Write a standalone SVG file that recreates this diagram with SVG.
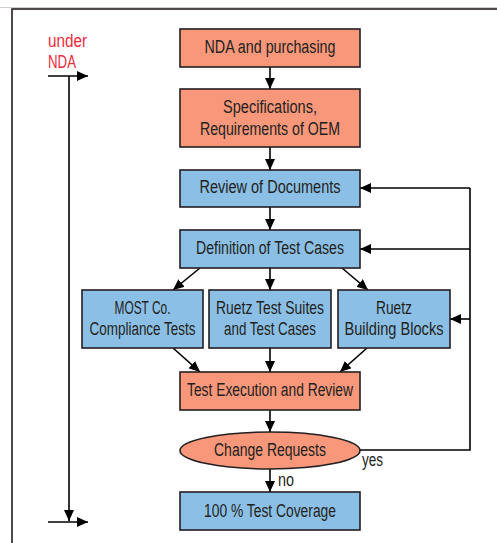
<svg xmlns="http://www.w3.org/2000/svg" width="497" height="543" viewBox="0 0 497 543">
<style>
.box{stroke:#231f20;stroke-width:1.6}
.or{fill:#f8977a}
.bl{fill:#8bbfe6}
.t{font-family:"Liberation Sans",Arial,sans-serif;font-size:18px;fill:#231f20;text-anchor:middle}
.lbl{font-family:"Liberation Sans",Arial,sans-serif;font-size:18px;fill:#231f20}
.red{font-family:"Liberation Sans",Arial,sans-serif;font-size:18px;fill:#ed2a3a}
.c{fill:none;stroke:#000;stroke-width:1.6}
.a{marker-end:url(#ah)}
</style>
<defs>
<marker id="ah" markerUnits="userSpaceOnUse" markerWidth="12" markerHeight="10" refX="11" refY="5" orient="auto">
<path d="M0,0 L11,5 L0,10 z" fill="#000"/>
</marker>
</defs>
<rect width="497" height="543" fill="#fff"/>
<line x1="0" y1="7.5" x2="497" y2="7.5" stroke="#d0d0d0" stroke-width="1"/>
<rect x="12" y="9" width="500" height="545" fill="none" stroke="#231f20" stroke-width="1.6"/>
<g id="connectors">
<line class="c a" x1="270" y1="67" x2="270" y2="89"/>
<line class="c a" x1="270" y1="147" x2="270" y2="170"/>
<line class="c a" x1="270" y1="207" x2="270" y2="230"/>
<line class="c a" x1="270" y1="268" x2="270" y2="290"/>
<line class="c a" x1="200" y1="268" x2="173" y2="290"/>
<line class="c a" x1="342" y1="268" x2="368" y2="290"/>
<line class="c a" x1="173" y1="348" x2="200" y2="372"/>
<line class="c a" x1="270" y1="348" x2="270" y2="372"/>
<line class="c a" x1="367" y1="348" x2="340" y2="372"/>
<line class="c a" x1="270" y1="410" x2="270" y2="432"/>
<line class="c a" x1="270" y1="469" x2="270" y2="492"/>
<polyline class="c" points="360,450 470,450 470,188"/>
<line class="c a" x1="470" y1="188" x2="360" y2="188"/>
<line class="c a" x1="470" y1="249" x2="360" y2="249"/>
<line class="c a" x1="470" y1="319" x2="450" y2="319"/>
<line class="c a" x1="48" y1="76" x2="88" y2="76"/>
<line class="c a" x1="69" y1="76" x2="69" y2="521"/>
<line class="c a" x1="48" y1="522" x2="88" y2="522"/>
<text class="lbl" x="362" y="466" textLength="21" lengthAdjust="spacingAndGlyphs">yes</text>
<text class="lbl" x="278" y="486" textLength="16" lengthAdjust="spacingAndGlyphs">no</text>
</g>
<g id="under-nda">
<text class="red" x="48" y="47" textLength="39" lengthAdjust="spacingAndGlyphs">under</text>
<text class="red" x="48" y="68" textLength="28" lengthAdjust="spacingAndGlyphs">NDA</text>
</g>
<g id="nda">
<rect class="box or" x="180" y="29" width="180" height="38"/>
<text class="t" x="270" y="53" textLength="131" lengthAdjust="spacingAndGlyphs">NDA and purchasing</text>
</g>
<g id="spec">
<rect class="box or" x="180" y="89" width="180" height="58"/>
<text class="t" x="270" y="113" textLength="94" lengthAdjust="spacingAndGlyphs">Specifications,</text>
<text class="t" x="270" y="135" textLength="140" lengthAdjust="spacingAndGlyphs">Requirements of OEM</text>
</g>
<g id="review">
<rect class="box bl" x="180" y="170" width="180" height="37"/>
<text class="t" x="270" y="193" textLength="141" lengthAdjust="spacingAndGlyphs">Review of Documents</text>
</g>
<g id="definition">
<rect class="box bl" x="180" y="230" width="180" height="38"/>
<text class="t" x="270" y="254" textLength="148" lengthAdjust="spacingAndGlyphs">Definition of Test Cases</text>
</g>
<g id="most">
<rect class="box bl" x="82" y="290" width="121" height="58"/>
<text class="t" x="142.5" y="314" textLength="56" lengthAdjust="spacingAndGlyphs">MOST Co.</text>
<text class="t" x="142.5" y="335" textLength="106" lengthAdjust="spacingAndGlyphs">Compliance Tests</text>
</g>
<g id="suites">
<rect class="box bl" x="209" y="290" width="122" height="58"/>
<text class="t" x="270" y="314" textLength="108" lengthAdjust="spacingAndGlyphs">Ruetz Test Suites</text>
<text class="t" x="270" y="335" textLength="92" lengthAdjust="spacingAndGlyphs">and Test Cases</text>
</g>
<g id="blocks">
<rect class="box bl" x="338" y="290" width="112" height="58"/>
<text class="t" x="394" y="314" textLength="36" lengthAdjust="spacingAndGlyphs">Ruetz</text>
<text class="t" x="394" y="335" textLength="99" lengthAdjust="spacingAndGlyphs">Building Blocks</text>
</g>
<g id="execution">
<rect class="box or" x="180" y="372" width="180" height="38"/>
<text class="t" x="270" y="396" textLength="166" lengthAdjust="spacingAndGlyphs">Test Execution and Review</text>
</g>
<g id="change">
<ellipse class="box or" cx="270" cy="450.5" rx="90" ry="18.5"/>
<text class="t" x="270" y="456" textLength="112" lengthAdjust="spacingAndGlyphs">Change Requests</text>
</g>
<g id="coverage">
<rect class="box bl" x="180" y="492" width="180" height="38"/>
<text class="t" x="270" y="517" textLength="132" lengthAdjust="spacingAndGlyphs">100 % Test Coverage</text>
</g>
</svg>
